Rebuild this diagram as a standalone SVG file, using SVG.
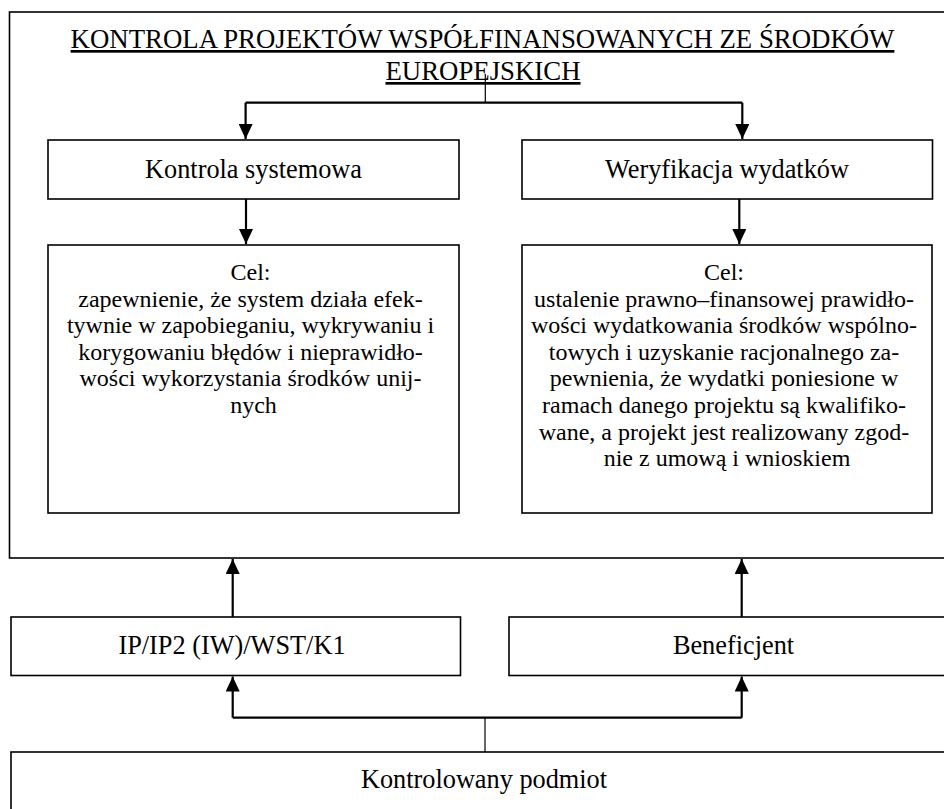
<svg xmlns="http://www.w3.org/2000/svg" width="944" height="809" viewBox="0 0 944 809">
<defs>
<style>
.box{fill:#fff;stroke:#000;stroke-width:1.6}
.t{font-family:"Liberation Serif","Times New Roman",serif;fill:#000;text-anchor:middle}
.lbl{font-size:26.3px}
.body{font-size:24px}
.title{font-size:26.8px;text-decoration:underline}
.thick{fill:none;stroke:#000;stroke-width:2.2}
.thin{fill:none;stroke:#000;stroke-width:1.2}
</style>
<marker id="ah" markerWidth="16" markerHeight="14" refX="15" refY="7" orient="auto" markerUnits="userSpaceOnUse">
<path d="M0,0 L15,7 L0,14 Z" fill="#000"/>
</marker>
</defs>
<rect width="944" height="809" fill="#fff"/>
<g id="outer">
<rect class="box" x="9.5" y="12" width="950" height="546"/>
<text class="t title" x="482.5" y="48">KONTROLA PROJEKTÓW WSPÓŁFINANSOWANYCH ZE ŚRODKÓW</text>
<text class="t title" x="483" y="80">EUROPEJSKICH</text>
</g>
<g id="kontrola-systemowa">
<rect class="box" x="48" y="140" width="411" height="59"/>
<text class="t lbl" x="253.5" y="178">Kontrola systemowa</text>
</g>
<g id="weryfikacja">
<rect class="box" x="522" y="140" width="410.5" height="59"/>
<text class="t lbl" x="727" y="178">Weryfikacja wydatków</text>
</g>
<g id="cel-left">
<rect class="box" x="48" y="245" width="411" height="268"/>
<text class="t body" x="253.5" y="280">
<tspan x="253.5" y="280">Cel:</tspan>
<tspan x="253.5" y="306.6">zapewnienie, że system działa efek-</tspan>
<tspan x="253.5" y="333.2">tywnie w zapobieganiu, wykrywaniu i</tspan>
<tspan x="253.5" y="359.8">korygowaniu błędów i nieprawidło-</tspan>
<tspan x="253.5" y="386.4">wości wykorzystania środków unij-</tspan>
<tspan x="253.5" y="413">nych</tspan>
</text>
</g>
<g id="cel-right">
<rect class="box" x="522" y="245" width="410" height="268"/>
<text class="t body" x="727" y="280">
<tspan x="727" y="280">Cel:</tspan>
<tspan x="727" y="306.6">ustalenie prawno–finansowej prawidło-</tspan>
<tspan x="727" y="333.2">wości wydatkowania środków wspólno-</tspan>
<tspan x="727" y="359.8">towych i uzyskanie racjonalnego za-</tspan>
<tspan x="727" y="386.4">pewnienia, że wydatki poniesione w</tspan>
<tspan x="727" y="413">ramach danego projektu są kwalifiko-</tspan>
<tspan x="727" y="439.6">wane, a projekt jest realizowany zgod-</tspan>
<tspan x="727" y="466.2">nie z umową i wnioskiem</tspan>
</text>
</g>
<g id="ip">
<rect class="box" x="11" y="617" width="449.5" height="58.5"/>
<text class="t lbl" x="232" y="654">IP/IP2 (IW)/WST/K1</text>
</g>
<g id="beneficjent">
<rect class="box" x="509" y="617" width="460" height="58.5"/>
<text class="t lbl" x="733.5" y="654">Beneficjent</text>
</g>
<g id="kontrolowany">
<rect class="box" x="11" y="752" width="960" height="80"/>
<text class="t lbl" x="484" y="788">Kontrolowany podmiot</text>
</g>
<g id="connectors">
<path class="thin" d="M485.3,74 V102.7"/>
<path class="thick" d="M245.6,102.7 H742.3"/>
<path class="thick" d="M245.6,102.7 V139" marker-end="url(#ah)"/>
<path class="thick" d="M742.3,102.7 V139" marker-end="url(#ah)"/>
<path class="thick" d="M246,199 V244" marker-end="url(#ah)"/>
<path class="thick" d="M739.3,199 V244" marker-end="url(#ah)"/>
<path class="thick" d="M232.7,617 V559" marker-end="url(#ah)"/>
<path class="thick" d="M741.7,617 V559" marker-end="url(#ah)"/>
<path class="thin" d="M485,752 V717.7"/>
<path class="thick" d="M232.7,717.7 H741.7"/>
<path class="thick" d="M232.7,717.7 V676.5" marker-end="url(#ah)"/>
<path class="thick" d="M741.7,717.7 V676.5" marker-end="url(#ah)"/>
</g>
</svg>
